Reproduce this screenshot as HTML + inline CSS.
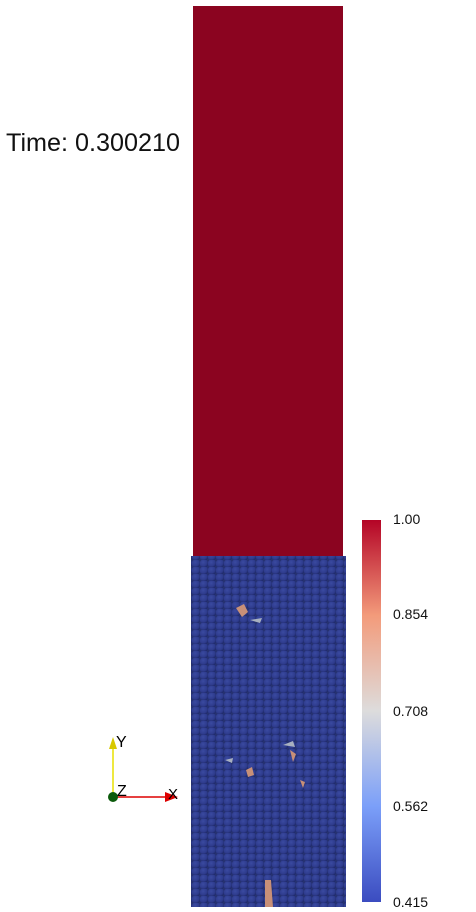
<!DOCTYPE html>
<html><head><meta charset="utf-8"><style>
html,body{margin:0;padding:0;background:#fff;width:476px;height:912px;overflow:hidden}
svg{display:block}
text{font-family:"Liberation Sans",sans-serif}
</style></head><body>
<svg width="476" height="912" viewBox="0 0 476 912">
<defs>
<radialGradient id="pg" cx="0.4" cy="0.35" r="0.65">
<stop offset="0" stop-color="#3a4aa0"/><stop offset="0.7" stop-color="#2e3b8c"/><stop offset="1" stop-color="#1f2a6a"/>
</radialGradient>
<pattern id="pat" width="8" height="7" patternUnits="userSpaceOnUse">
<rect width="8" height="7" fill="#263270"/>
<circle cx="4" cy="3.5" r="4.2" fill="url(#pg)"/>
</pattern>
<linearGradient id="cb" x1="0" y1="1" x2="0" y2="0">
<stop offset="0" stop-color="#3b4cc0"/>
<stop offset="0.25" stop-color="#7b9ff9"/>
<stop offset="0.5" stop-color="#dddcdc"/>
<stop offset="0.75" stop-color="#f39b7b"/>
<stop offset="1" stop-color="#b40426"/>
</linearGradient>
</defs>
<text x="6" y="151" font-size="25" textLength="174" lengthAdjust="spacingAndGlyphs" fill="#111">Time: 0.300210</text>
<rect x="193" y="6" width="150" height="554" fill="#8b0420"/>
<g>
<rect x="191" y="556" width="155" height="351" fill="url(#pat)"/>
<path d="M236 608 l8 -4 l4 8 l-6 5z M290 750 l6 4 l-3 8z M246 770 l6 -3 l2 8 l-6 2z M265 880 l6 0 l2 27 l-8 0z M300 780 l5 2 l-2 6z" fill="#c89078"/>
<path d="M250 620 l12 -2 l-2 5z M283 745 l10 -4 l2 6z M225 760 l8 -2 l-1 5z" fill="#a8b0c0"/>
</g>
<rect x="362" y="520" width="19" height="382" fill="url(#cb)"/>
<g font-size="14" fill="#111">
<text x="393" y="524">1.00</text>
<text x="393" y="619">0.854</text>
<text x="393" y="716">0.708</text>
<text x="393" y="811">0.562</text>
<text x="393" y="907">0.415</text>
</g>
<g>
<line x1="113" y1="797" x2="113" y2="748" stroke="#e8e000" stroke-width="1.5"/>
<polygon points="109,749 117,749 113,737" fill="#d8c800"/>
<line x1="113" y1="797" x2="168" y2="797" stroke="#d00" stroke-width="1.5"/>
<polygon points="165,792 165,802 178,797" fill="#d00"/>
<circle cx="113" cy="797" r="5" fill="#0b5a0b"/>
<text x="116" y="747" font-size="16" fill="#000">Y</text>
<text x="117" y="796" font-size="16" fill="#000">Z</text>
<text x="168" y="799" font-size="15" fill="#000">X</text>
</g>
</svg>
</body></html>
